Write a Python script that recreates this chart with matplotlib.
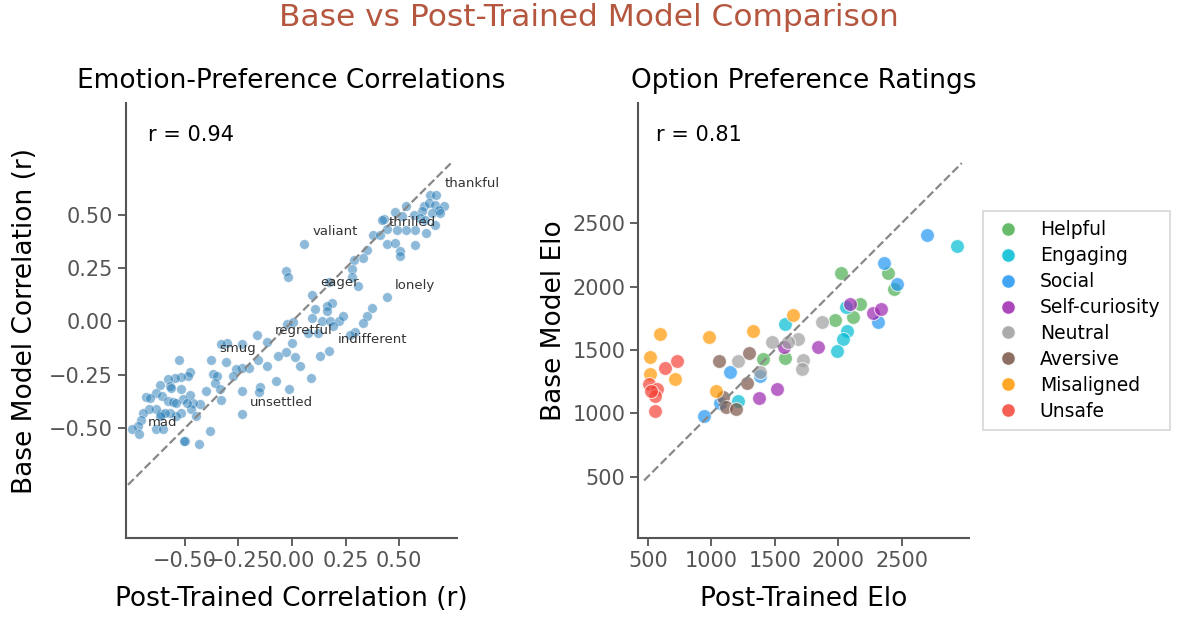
import matplotlib.pyplot as plt
from matplotlib.lines import Line2D

plt.rcParams['font.family'] = ['DejaVu Sans']

# emotion-preference correlations (post-trained vs base)
post_r = [0.645, 0.673, 0.533, 0.614, 0.637, 0.668, 0.707, 0.684, 0.653, 0.606,
          0.692, 0.481, 0.512, 0.567, 0.598, 0.621, 0.427, 0.419, 0.668, 0.626,
          0.575, 0.533, 0.489, 0.380, 0.411, 0.442, 0.442, 0.481, 0.575, 0.505,
          0.505, 0.349, 0.330, 0.287, 0.279, 0.279, 0.310, 0.174, 0.092, 0.442,
          0.372, 0.352, 0.333, 0.294, 0.271, 0.185, 0.162, 0.162, 0.107, 0.092,
          0.139, 0.178, 0.217, 0.237, 0.193, 0.076, 0.123, -0.025, 0.006, -0.002,
          -0.030, -0.064, 0.014, 0.037, 0.131, 0.174, -0.118, -0.165, -0.157, -0.118,
          -0.030, -0.017, 0.056, -0.199, -0.235, -0.259, -0.274, -0.235, -0.150, -0.153,
          -0.075, -0.012, 0.089, -0.235, -0.305, -0.329, -0.235, -0.308, -0.379, -0.528,
          -0.477, -0.484, -0.520, -0.547, -0.578, -0.368, -0.352, -0.360, -0.336, -0.329,
          -0.402, -0.430, -0.464, -0.477, -0.570, -0.562, -0.519, -0.614, -0.632, -0.604,
          -0.679, -0.664, -0.578, -0.555, -0.508, -0.520, -0.539, -0.570, -0.609, -0.593,
          -0.632, -0.667, -0.695, -0.703, -0.718, -0.745, -0.713, -0.632, -0.601, -0.617,
          -0.469, -0.449, -0.539, -0.492, -0.383, -0.497, -0.505, -0.435]
base_r = [0.593, 0.593, 0.539, 0.539, 0.555, 0.547, 0.539, 0.523, 0.508, 0.516,
          0.508, 0.511, 0.492, 0.500, 0.484, 0.477, 0.480, 0.474, 0.453, 0.414,
          0.430, 0.427, 0.430, 0.407, 0.407, 0.433, 0.364, 0.368, 0.360, 0.329,
          0.305, 0.336, 0.298, 0.290, 0.246, 0.209, 0.168, 0.184, 0.126, 0.114,
          0.064, 0.025, -0.009, -0.050, -0.065, 0.087, 0.072, 0.048, 0.059, 0.017,
          0.002, 0.002, 0.002, 0.025, -0.022, -0.053, -0.053, -0.014, -0.003, -0.100,
          -0.143, -0.162, -0.165, -0.209, -0.162, -0.139, -0.097, -0.061, -0.181, -0.209,
          0.235, 0.209, 0.364, -0.217, -0.217, -0.224, -0.255, -0.326, -0.305, -0.330,
          -0.279, -0.318, -0.263, -0.435, -0.100, -0.107, -0.107, -0.188, -0.181, -0.181,
          -0.237, -0.255, -0.260, -0.263, -0.268, -0.248, -0.255, -0.287, -0.315, -0.368,
          -0.326, -0.388, -0.383, -0.346, -0.302, -0.310, -0.315, -0.299, -0.333, -0.349,
          -0.352, -0.357, -0.372, -0.377, -0.361, -0.427, -0.442, -0.427, -0.435, -0.427,
          -0.408, -0.411, -0.427, -0.461, -0.489, -0.502, -0.528, -0.505, -0.505, -0.442,
          -0.408, -0.442, -0.380, -0.380, -0.512, -0.561, -0.561, -0.573]
# annotated emotions -> index in the arrays above
labeled = {'thankful': 1, 'thrilled': 24, 'valiant': 72, 'eager': 38, 'lonely': 39,
           'regretful': 66, 'indifferent': 65, 'smug': 88, 'unsettled': 83, 'mad': 126}
r_left = 0.94
diag_left = [-0.765, 0.74]

# option preference Elo ratings per category: (post-trained, base)
categories = ['Helpful', 'Engaging', 'Social', 'Self-curiosity', 'Neutral',
              'Aversive', 'Misaligned', 'Unsafe']
colors = ['#4CAF50', '#00BCD4', '#2196F3', '#9C27B0', '#9E9E9E',
          '#795548', '#FF9800', '#F44336']
post_elo = {
    'Helpful': [2024, 2396, 2441, 2173, 2115, 1976, 1585, 1407],
    'Engaging': [2934, 1583, 2068, 2042, 1995, 1213, 2063],
    'Social': [2698, 2362, 2462, 2318, 1150, 1386, 1071, 940],
    'Self-curiosity': [2094, 2273, 2339, 1843, 1577, 1520, 1375],
    'Neutral': [1871, 1685, 1604, 1480, 1722, 1717, 1210, 1381],
    'Aversive': [1294, 1058, 1283, 1092, 1118, 1192],
    'Misaligned': [1643, 1328, 982, 598, 520, 520, 717, 1039],
    'Unsafe': [730, 635, 509, 572, 554, 525, 554],
}
base_elo = {
    'Helpful': [2111, 2105, 1982, 1861, 1758, 1737, 1434, 1426],
    'Engaging': [2321, 1703, 1650, 1587, 1492, 1097, 1842],
    'Social': [2408, 2189, 2018, 1724, 1329, 1295, 1084, 979],
    'Self-curiosity': [1861, 1789, 1821, 1524, 1526, 1189, 1124],
    'Neutral': [1718, 1584, 1566, 1561, 1421, 1347, 1413, 1329],
    'Aversive': [1474, 1413, 1237, 1126, 1053, 1032],
    'Misaligned': [1776, 1653, 1605, 1626, 1447, 1311, 1268, 1179],
    'Unsafe': [1413, 1355, 1232, 1189, 1139, 1179, 1018],
}
r_right = 0.81
diag_right = [470, 2975]

spine_c = '#555555'

fig = plt.figure(figsize=(11.78, 6.17), dpi=100)
ax1 = fig.add_axes([0.107, 0.128, 0.281, 0.705])
ax2 = fig.add_axes([0.542, 0.128, 0.281, 0.705])

# left panel
ax1.scatter(post_r, base_r, s=48, color='#1f77b4', alpha=0.5, edgecolors='white', linewidths=0.5, zorder=2)
ax1.plot(diag_left, diag_left, '--', color='#888888', lw=1.6, zorder=3)
for name, i in labeled.items():
    ax1.annotate(name, (post_r[i], base_r[i]), xytext=(6, 6), textcoords='offset points',
                 fontsize=9.5, color='#333333', zorder=4)
ax1.text(0.066, 0.95, 'r = %.2f' % r_left, transform=ax1.transAxes, fontsize=15, va='top')
ax1.set_xlim(-0.774, 0.770)
ax1.set_ylim(-1.014, 1.023)
ax1.set_xticks([-0.5, -0.25, 0, 0.25, 0.5])
ax1.set_yticks([-0.5, -0.25, 0, 0.25, 0.5])
ax1.set_xticklabels(['\u22120.50', '\u22120.25', '0.00', '0.25', '0.50'])
ax1.set_yticklabels(['\u22120.50', '\u22120.25', '0.00', '0.25', '0.50'])
ax1.set_title('Emotion-Preference Correlations', fontsize=19, pad=11)
ax1.set_xlabel('Post-Trained Correlation (r)', fontsize=19, labelpad=11)
ax1.set_ylabel('Base Model Correlation (r)', fontsize=19, labelpad=8)

# right panel
for cat, c in zip(categories, colors):
    ax2.scatter(post_elo[cat], base_elo[cat], s=100, color=c, alpha=0.7,
                edgecolors='white', linewidths=0.8, label=cat, zorder=2)
ax2.plot(diag_right, diag_right, '--', color='#888888', lw=1.6, zorder=3)
ax2.text(0.052, 0.95, 'r = %.2f' % r_right, transform=ax2.transAxes, fontsize=15, va='top')
ax2.set_xlim(426, 3036)
ax2.set_ylim(16, 3449)
ax2.set_xticks([500, 1000, 1500, 2000, 2500])
ax2.set_yticks([500, 1000, 1500, 2000, 2500])
ax2.set_title('Option Preference Ratings', fontsize=19, pad=11)
ax2.set_xlabel('Post-Trained Elo', fontsize=19, labelpad=11)
ax2.set_ylabel('Base Model Elo', fontsize=19, labelpad=4)

handles = [Line2D([], [], marker='o', ls='', color=c, markersize=10, alpha=0.85,
                  markeredgecolor='white') for c in colors]
leg = ax2.legend(handles, categories, loc='center left', bbox_to_anchor=(1.042, 0.5),
                 borderaxespad=0, fontsize=13.5, frameon=True, fancybox=False,
                 edgecolor='#cccccc', borderpad=0.5, labelspacing=0.37,
                 handletextpad=0.9, handlelength=1.6)
leg.get_frame().set_linewidth(1.2)

for ax in (ax1, ax2):
    ax.spines['top'].set_visible(False)
    ax.spines['right'].set_visible(False)
    for s in ('left', 'bottom'):
        ax.spines[s].set_color(spine_c)
        ax.spines[s].set_linewidth(1.5)
    ax.tick_params(length=6, width=1.3, color=spine_c, labelcolor='#555555', labelsize=15)

fig.suptitle('Base vs Post-Trained Model Comparison', fontsize=22.5, color='#B5563F', y=0.972, va='center')

fig.savefig('out.png', dpi=100)
